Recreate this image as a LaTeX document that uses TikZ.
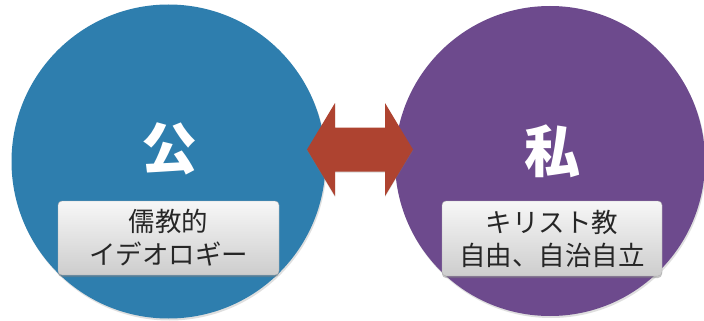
\documentclass[tikz,border=0pt]{standalone}
\usepackage{fontspec}
\newfontfamily\cjk{Noto Sans CJK JP}
\usetikzlibrary{shadows}
\definecolor{pubblue}{HTML}{2E7EAE}
\definecolor{privpurple}{HTML}{6D4A8D}
\definecolor{arrowred}{HTML}{AE4330}
\definecolor{boxtop}{HTML}{F7F7F7}
\definecolor{boxbot}{HTML}{CDCDCD}
\begin{document}
\begin{tikzpicture}[x=1pt,y=-1pt,
  bigcircle/.style={circle, inner sep=0pt, draw=none,
    drop shadow={shadow xshift=1pt, shadow yshift=-2pt, opacity=0.25}},
  title/.style={text=white, font=\cjk\bfseries\fontsize{56}{60}\selectfont, inner sep=0pt},
  labelbox/.style={rounded corners=4pt, top color=boxtop, bottom color=boxbot,
    draw=boxbot!85!black, line width=0.4pt, align=center, inner sep=0pt,
    font=\cjk\fontsize{26.5}{33}\selectfont, text=black!85,
    drop shadow={shadow xshift=0pt, shadow yshift=-2pt, opacity=0.45}},
]
\useasboundingbox (0,0) rectangle (704,321);
\fill[white] (0,0) rectangle (704,321);
\node[bigcircle, fill=pubblue, minimum size=314pt] (pub) at (168.5,161.5) {};
\node[bigcircle, fill=privpurple, minimum size=310pt] (priv) at (550,161) {};
% double arrow
\coordinate (ac) at (360,149.5);
\fill[arrowred, drop shadow={shadow xshift=0pt, shadow yshift=-1pt, opacity=0.3}]
  ([xshift=-53pt]ac) -- ([xshift=-25pt,yshift=-46.5pt]ac) -- ([xshift=-25pt,yshift=-22pt]ac)
  -- ([xshift=25pt,yshift=-22pt]ac) -- ([xshift=25pt,yshift=-46.5pt]ac) -- ([xshift=53pt]ac)
  -- ([xshift=25pt,yshift=46.5pt]ac) -- ([xshift=25pt,yshift=22pt]ac)
  -- ([xshift=-25pt,yshift=22pt]ac) -- ([xshift=-25pt,yshift=46.5pt]ac) -- cycle;
\node[title] (pubt) at (169,149) {公};
\node[title] (privt) at (552,151) {私};
\node[labelbox, minimum width=221pt, minimum height=74pt] (pubbox) at (168.5,238) {儒教的\\イデオロギー};
\node[labelbox, minimum width=220pt, minimum height=75pt] (privbox) at (552,238.5) {キリスト教\\自由、自治自立};
\end{tikzpicture}
\end{document}
